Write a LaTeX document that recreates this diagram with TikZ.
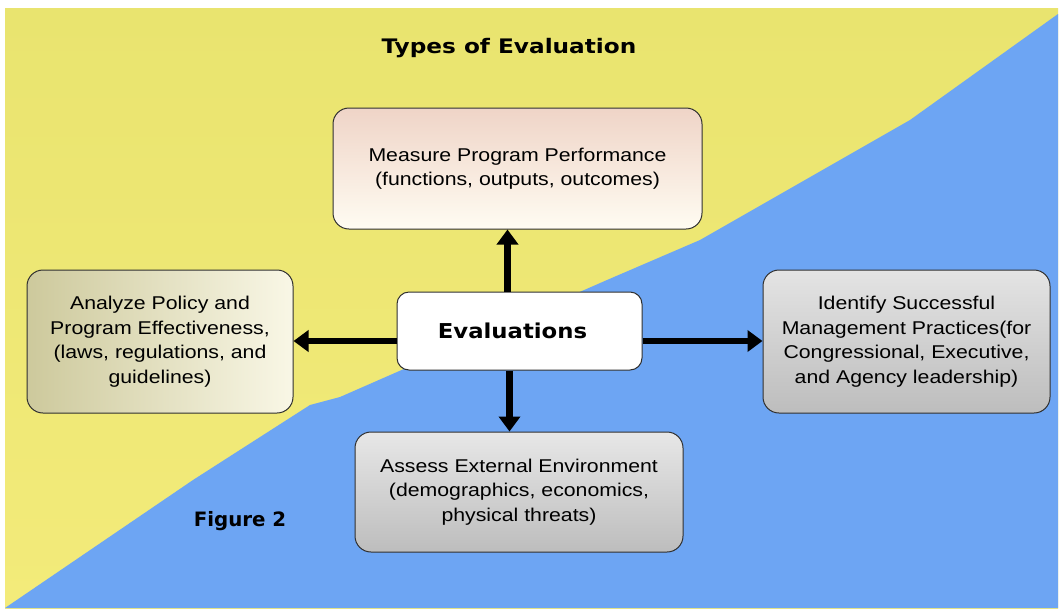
\documentclass[tikz,border=0pt]{standalone}
\usepackage{fontspec}
\setmainfont{Liberation Sans}
\newfontfamily\boxfont{Liberation Sans}[FakeStretch=1.15]
\newfontfamily\titlefont{DejaVu Sans}[FakeStretch=1.16]
\newfontfamily\evalfont{DejaVu Sans}[FakeStretch=1.11]
\newfontfamily\figfont{DejaVu Sans}
\usetikzlibrary{arrows.meta}
\definecolor{yelA}{HTML}{E9E46F}
\definecolor{yelB}{HTML}{F3EB7A}
\definecolor{bgblue}{HTML}{6DA5F3}
\definecolor{pinkT}{HTML}{EFD4C7}
\definecolor{creamB}{HTML}{FFFCF2}
\definecolor{oliveL}{HTML}{CDC99C}
\definecolor{pinkM}{HTML}{EFD2C6}
\definecolor{paleR}{HTML}{F9F7E6}
\definecolor{grayL}{HTML}{DDDDDD}
\definecolor{grayD}{HTML}{BDBDBD}
\definecolor{edge}{HTML}{2F2F2F}
\tikzset{
  box/.style={draw=edge, line width=1pt, rounded corners=16pt, align=center,
    inner sep=0pt, font=\boxfont\fontsize{18.5}{24.5}\selectfont},
  bigarrow/.style={line width=6.5pt, -{Triangle[length=15pt,width=21pt]}, black},
}
\begin{document}
\begin{tikzpicture}[x=1pt,y=-1pt]
\useasboundingbox (0,0) rectangle (1060,611);
\fill[white] (0,0) rectangle (1060,611);
\shade[top color=yelA, bottom color=yelB] (5,8) rectangle (1058,608);
\fill[bgblue] (5,608) -- (193,480) -- (310,405) -- (340,397) -- (607,280)
  -- (700,240) -- (910,120) -- (1058,14) -- (1058,608) -- cycle;

\node[font=\titlefont\bfseries\fontsize{20}{24}\selectfont] (title) at (509,48) {Types of Evaluation};
\node[font=\figfont\bfseries\fontsize{19.8}{24}\selectfont] (fig) at (240,521) {Figure 2};

\node[box, minimum width=369pt, minimum height=121pt, top color=pinkT, bottom color=creamB] (top) at (517.5,168.5)
  {Measure Program Performance\\(functions, outputs, outcomes)};
\node[box, minimum width=266pt, minimum height=143pt, left color=oliveL, middle color=pinkM, right color=paleR] (left) at (160,341.5)
  {Analyze Policy and\\Program Effectiveness,\\(laws, regulations, and\\guidelines)};
\node[box, minimum width=287pt, minimum height=143pt, top color=grayL!80!white, bottom color=grayD] (right) at (906.5,341.5)
  {Identify Successful\\Management Practices(for\\Congressional, Executive,\\and Agency leadership)};
\node[box, minimum width=328pt, minimum height=120pt, top color=grayL!70!white, bottom color=grayD] (bottom) at (519,492)
  {Assess External Environment\\(demographics, economics,\\physical threats)};
\node[box, rounded corners=12pt, fill=white, minimum width=245pt, minimum height=78pt,
  font=\evalfont\bfseries\fontsize{20.5}{24}\selectfont] (eval) at (519.5,331) {Evaluations\hspace*{14pt}};

\draw[bigarrow] (eval.north -| top.south) ++(-10,0) coordinate (u0) -- (u0 |- top.south);
\draw[bigarrow] (eval.west) ++(0,10) coordinate (l0) -- (l0 -| left.east);
\draw[bigarrow] (eval.east) ++(0,10) coordinate (r0) -- (r0 -| right.west);
\draw[bigarrow] (eval.south) ++(-10,0) coordinate (d0) -- (d0 |- bottom.north);
\end{tikzpicture}
\end{document}
